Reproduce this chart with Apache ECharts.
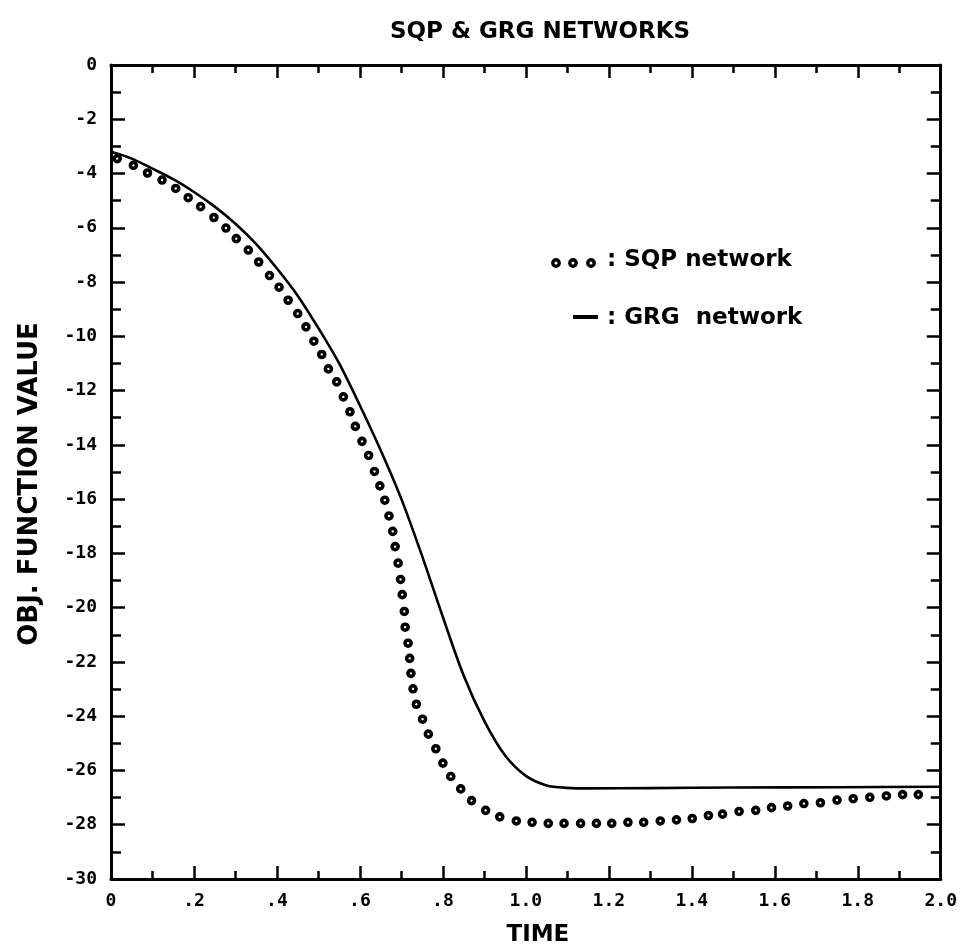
<!DOCTYPE html>
<html>
<head>
<meta charset="utf-8">
<script src="https://cdn.jsdelivr.net/npm/echarts@6/dist/echarts.min.js"></script>
<style>
html,body{margin:0;padding:0;background:#fff;}
#chart{width:960px;height:952px;}
</style>
</head>
<body>
<div id="chart"></div>
<script>
// SQP network (circle markers)
const sqpTime = [0.015,0.054,0.088,0.123,0.156,0.186,0.216,0.248,0.277,0.302,0.331,0.356,0.382,0.405,0.427,0.450,0.470,0.489,0.508,0.524,0.544,0.560,0.576,0.589,0.605,0.621,0.635,0.648,0.660,0.670,0.679,0.685,0.692,0.698,0.702,0.707,0.709,0.716,0.720,0.723,0.728,0.736,0.751,0.765,0.783,0.800,0.819,0.843,0.869,0.903,0.937,0.977,1.015,1.054,1.092,1.132,1.170,1.207,1.246,1.284,1.324,1.363,1.401,1.440,1.474,1.514,1.554,1.592,1.631,1.670,1.710,1.750,1.789,1.829,1.869,1.908,1.946];
const sqpValue = [-3.45,-3.70,-3.98,-4.24,-4.55,-4.89,-5.22,-5.62,-6.01,-6.40,-6.82,-7.26,-7.76,-8.19,-8.67,-9.16,-9.65,-10.18,-10.67,-11.20,-11.68,-12.23,-12.78,-13.32,-13.87,-14.39,-14.98,-15.51,-16.04,-16.62,-17.19,-17.75,-18.36,-18.96,-19.52,-20.14,-20.72,-21.31,-21.87,-22.42,-22.99,-23.56,-24.11,-24.66,-25.20,-25.73,-26.22,-26.68,-27.11,-27.47,-27.71,-27.86,-27.91,-27.95,-27.95,-27.95,-27.95,-27.95,-27.91,-27.91,-27.86,-27.82,-27.77,-27.66,-27.61,-27.51,-27.47,-27.37,-27.31,-27.22,-27.19,-27.09,-27.04,-26.99,-26.94,-26.89,-26.89];
// GRG network (solid line)
const grgTime = [0,0.05,0.1,0.15,0.2,0.25,0.3,0.35,0.4,0.45,0.5,0.55,0.6,0.65,0.7,0.75,0.8,0.85,0.9,0.95,1.0,1.05,1.1,1.15,1.3,1.5,1.75,2.0];
const grgValue = [-3.2,-3.45,-3.82,-4.21,-4.68,-5.22,-5.85,-6.6,-7.5,-8.5,-9.7,-11.0,-12.55,-14.2,-16.0,-18.1,-20.35,-22.5,-24.18,-25.45,-26.2,-26.55,-26.64,-26.66,-26.65,-26.63,-26.62,-26.6];
// tick labels
const xTickLabels = ['0','.2','.4','.6','.8','1.0','1.2','1.4','1.6','1.8','2.0'];
const yTickLabels = ['-30','-28','-26','-24','-22','-20','-18','-16','-14','-12','-10','-8','-6','-4','-2','0'];

const chart = echarts.init(document.getElementById('chart'), null, {renderer: 'canvas'});
const BOLD = 'DejaVu Sans';
const MONO = 'DejaVu Sans Mono';
const axisLine = {show: true, onZero: false, lineStyle: {color: '#000', width: 3}};
function xAx(pos, labels) {
  return {
    type: 'value', position: pos, min: 0, max: 2, interval: 0.2,
    axisLine: axisLine,
    axisTick: {show: true, inside: true, length: 13, lineStyle: {color: '#000', width: 2.5}},
    minorTick: {show: true, splitNumber: 2, length: 8, lineStyle: {color: '#000', width: 2.5}},
    splitLine: {show: false}, minorSplitLine: {show: false},
    axisLabel: {show: labels, margin: 13, color: '#000', fontFamily: MONO, fontWeight: 'bold', fontSize: 18,
      formatter: v => xTickLabels[Math.round(v / 0.2)]},
    name: labels ? 'TIME' : '', nameLocation: 'middle', nameGap: 45,
    nameTextStyle: {color: '#000', fontFamily: BOLD, fontWeight: 'bold', fontSize: 23, padding: [0, 0, 0, 24]}
  };
}
function yAx(pos, labels) {
  return {
    type: 'value', position: pos, min: -30, max: 0, interval: 2,
    axisLine: axisLine,
    axisTick: {show: true, inside: true, length: 14, lineStyle: {color: '#000', width: 2.5}},
    minorTick: {show: true, splitNumber: 2, length: 10, lineStyle: {color: '#000', width: 2.5}},
    splitLine: {show: false}, minorSplitLine: {show: false},
    axisLabel: {show: labels, margin: 14, color: '#000', fontFamily: MONO, fontWeight: 'bold', fontSize: 18,
      formatter: v => yTickLabels[Math.round((v + 30) / 2)]},
    name: labels ? 'OBJ. FUNCTION VALUE' : '', nameLocation: 'middle', nameGap: 68, nameRotate: 90,
    nameTextStyle: {color: '#000', fontFamily: BOLD, fontWeight: 'bold', fontSize: 26, padding: [0, 24, 0, 0]}
  };
}

chart.setOption({
  backgroundColor: '#fff',
  animation: false,
  title: {
    text: 'SQP & GRG NETWORKS', left: 535, top: 16, textAlign: 'center',
    textStyle: {color: '#000', fontFamily: BOLD, fontWeight: 'bold', fontSize: 23}
  },
  grid: {left: 111, right: 17, top: 65, bottom: 67},
  xAxis: [xAx('bottom', true), xAx('top', false)],
  yAxis: [yAx('left', true), yAx('right', false)],
  series: [
    {
      name: 'GRG network', type: 'line', xAxisIndex: 0, yAxisIndex: 0,
      data: grgTime.map((t, i) => [t, grgValue[i]]),
      showSymbol: false, smooth: 0.3,
      lineStyle: {color: '#000', width: 2.6}, z: 2
    },
    {
      name: 'SQP network', type: 'scatter', xAxisIndex: 0, yAxisIndex: 0,
      data: sqpTime.map((t, i) => [t, sqpValue[i]]),
      symbol: 'circle', symbolSize: 6,
      itemStyle: {color: '#fff', borderColor: '#000', borderWidth: 3.6, opacity: 1}, z: 3
    }
  ],
  graphic: [
    {type: 'circle', shape: {cx: 556, cy: 263, r: 3.2}, style: {fill: '#fff', stroke: '#000', lineWidth: 3.4}},
    {type: 'circle', shape: {cx: 573, cy: 263, r: 3.2}, style: {fill: '#fff', stroke: '#000', lineWidth: 3.4}},
    {type: 'circle', shape: {cx: 591, cy: 263, r: 3.2}, style: {fill: '#fff', stroke: '#000', lineWidth: 3.4}},
    {type: 'text', x: 607, y: 260, style: {text: ': SQP network', fill: '#000', font: 'bold 23px "DejaVu Sans"', textVerticalAlign: 'middle', verticalAlign: 'middle'}},
    {type: 'line', shape: {x1: 573, y1: 317, x2: 598, y2: 317}, style: {stroke: '#000', lineWidth: 4}},
    {type: 'text', x: 607, y: 318, style: {text: ': GRG  network', fill: '#000', font: 'bold 23px "DejaVu Sans"', textVerticalAlign: 'middle', verticalAlign: 'middle'}}
  ]
});
</script>
</body>
</html>
